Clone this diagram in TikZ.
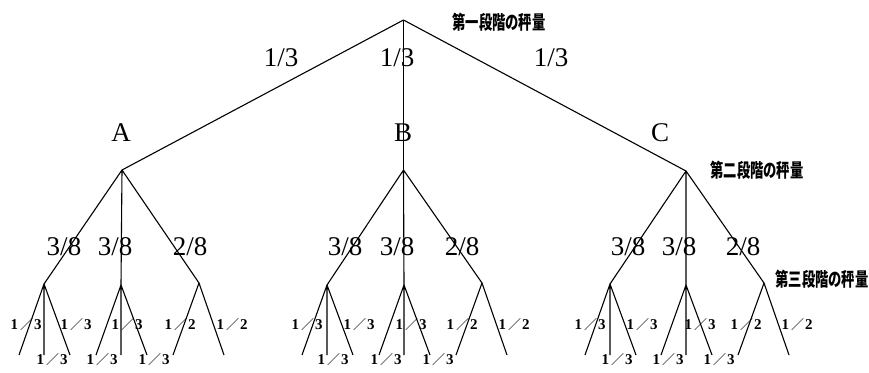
\documentclass[tikz,border=0pt]{standalone}
\usepackage{fontspec}
\setmainfont{Liberation Serif}
\newfontfamily\cjk{Noto Sans CJK JP}
\newcommand\fr[2]{{\bfseries\fontsize{15}{15}\selectfont #1\hspace{2pt}{\cjk\mdseries\fontsize{13}{13}\selectfont ／}\hspace{1pt}#2}}
\newcommand\ttltext[1]{\scalebox{0.7}[1]{#1}}
\tikzset{
  edge/.style={line width=1.1pt, line join=round},
  big/.style={inner sep=0pt, font=\fontsize{27}{27}\selectfont},
  small/.style={inner sep=0pt},
  ttl/.style={inner sep=0pt, font=\cjk\bfseries\fontsize{19}{19}\selectfont}
}
\begin{document}
\begin{tikzpicture}[x=1pt,y=-1pt]
\useasboundingbox (0,0) rectangle (869,372);
% tree nodes
\coordinate (R) at (403.5,20);
\coordinate (A) at (122,170);
\coordinate (B) at (403.5,170);
\coordinate (C) at (686,171);
\foreach \n/\x/\y in {A1/44/284,A2/121/285,A3/199/283,B1/327/285,B2/404/285,B3/482/283,C1/610/284,C2/686/285,C3/764/283}
  \coordinate (\n) at (\x,\y);
% first stage
\draw[edge] (A) -- (R) -- (C);
\draw[edge] (R) -- (B);
% second stage
\foreach \p in {A,B,C}
  \draw[edge] (\p1) -- (\p) -- (\p3) (\p) -- (\p2);
% third stage
\foreach \p/\x in {A1/44,A2/121,B1/327,B2/404,C1/610,C2/686} {
  \coordinate (\p l) at (\x-25,355);
  \coordinate (\p m) at (\x,355);
  \coordinate (\p r) at (\x+26,355);
  \draw[edge] (\p l) -- (\p) -- (\p r) (\p) -- (\p m);
}
\foreach \p/\x in {A3/199,B3/482,C3/764} {
  \coordinate (\p l) at (\x-26,355);
  \coordinate (\p r) at (\x+25,355);
  \draw[edge] (\p l) -- (\p) -- (\p r);
}
% titles
\node[ttl] (t1) at (499,22) {\ttltext{第一段階の秤量}};
\node[ttl] (t2) at (757,170) {\ttltext{第二段階の秤量}};
\node[ttl] (t3) at (822,279) {\ttltext{第三段階の秤量}};
% first stage labels
\node[big] (p1) at (281,58) {1/3};
\node[big] (p2) at (397,58) {1/3};
\node[big] (p3) at (551,58) {1/3};
\node[big] (la) at (121,133) {A};
\node[big] (lb) at (403,133) {B};
\node[big] (lc) at (660,133) {C};
% second stage labels
\foreach \n/\x/\a/\b in {a1/64/3/8,a2/115/3/8,a3/190/2/8,b1/345/3/8,b2/397/3/8,b3/462/2/8,c1/628/3/8,c2/679/3/8,c3/743/2/8}
  \node[big] (q\n) at (\x,247) {\a/\b};
% third stage labels
\foreach \n/\x/\a/\b in {a11/26/1/3,a12/76/1/3,a2/127/1/3,a31/180/1/2,a32/232/1/2,
  b11/307/1/3,b12/359/1/3,b2/411/1/3,b31/462/1/2,b32/514/1/2,
  c11/590/1/3,c12/642/1/3,c2/700/1/3,c31/746/1/2,c32/797/1/2}
  \node[small] (s\n) at (\x,325) {\fr{\a}{\b}};
\foreach \n/\x in {a1/52,a2/102,a3/154,b1/333,b2/386,b3/438,c1/617,c2/668,c3/719}
  \node[small] (u\n) at (\x,360) {\fr{1}{3}};
\end{tikzpicture}
\end{document}
